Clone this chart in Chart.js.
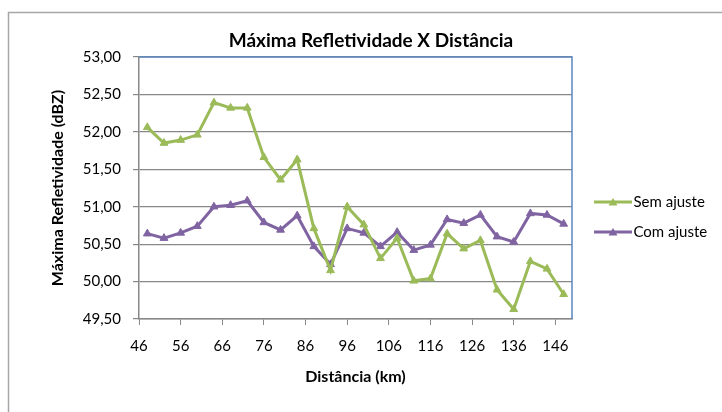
<!DOCTYPE html>
<html>
<head>
<meta charset="utf-8">
<script src="https://cdn.jsdelivr.net/npm/chart.js@4/dist/chart.umd.min.js"></script>
<style>
  html, body { margin: 0; padding: 0; background: #fff; }
  canvas { display: block; }
</style>
</head>
<body>
<canvas id="chart1" width="722" height="412"></canvas>
<script>
// Distance (km) and maximum reflectivity (dBZ) for both series
const distances = [48, 52, 56, 60, 64, 68, 72, 76, 80, 84, 88, 92, 96, 100, 104, 108, 112, 116, 120, 124, 128, 132, 136, 140, 144, 148];
const semAjuste = [52.06, 51.85, 51.89, 51.96, 52.39, 52.32, 52.32, 51.66, 51.36, 51.63, 50.71, 50.15, 51.00, 50.76, 50.31, 50.58, 50.01, 50.04, 50.64, 50.44, 50.55, 49.89, 49.63, 50.27, 50.17, 49.83];
const comAjuste = [50.64, 50.58, 50.65, 50.74, 51.00, 51.02, 51.08, 50.79, 50.69, 50.88, 50.47, 50.23, 50.71, 50.65, 50.47, 50.66, 50.42, 50.49, 50.83, 50.78, 50.89, 50.60, 50.53, 50.91, 50.89, 50.77];
const xTicks = [46, 56, 66, 76, 86, 96, 106, 116, 126, 136, 146];
const seriesNames = ["Sem ajuste", "Com ajuste"];

const GREEN = "#9bbb59";
const PURPLE = "#8064a2";
const GRID = "#888888";
const FONT = "Lato, 'Open Sans', sans-serif";

// legend symbol: short line with a triangle marker in the middle
function legendIcon(color) {
  const c = document.createElement("canvas");
  c.width = 51;
  c.height = 10;
  const g = c.getContext("2d");
  g.strokeStyle = color;
  g.lineWidth = 3;
  g.beginPath();
  g.moveTo(13, 5);
  g.lineTo(51, 5);
  g.stroke();
  g.fillStyle = color;
  g.beginPath();
  g.moveTo(32, 1);
  g.lineTo(36.5, 8.5);
  g.lineTo(27.5, 8.5);
  g.closePath();
  g.fill();
  return c;
}
const icons = [legendIcon(GREEN), legendIcon(PURPLE)];

function toPoints(values) {
  return distances.map((d, i) => ({ x: d, y: values[i] }));
}

const frame = {
  id: "frame",
  beforeDraw(chart) {
    const ctx = chart.ctx;
    ctx.save();
    ctx.fillStyle = "#fff";
    ctx.fillRect(0, 0, chart.width, chart.height);
    ctx.strokeStyle = "#a6a6a6";
    ctx.lineWidth = 1.5;
    ctx.strokeRect(8.5, 12.5, chart.width + 20, chart.height + 20);
    ctx.restore();
  },
  beforeLayout(chart) {
    const lg = chart.legend;
    if (lg && !lg._fixedWidth) {
      const fit = lg.fit;
      lg.fit = function () {
        fit.call(this);
        this.width = 150;
      };
      lg._fixedWidth = true;
    }
  },
  beforeDatasetsDraw(chart) {
    const { ctx, chartArea: a } = chart;
    ctx.save();
    ctx.strokeStyle = "#5b87c0";
    ctx.lineWidth = 1.5;
    ctx.beginPath();
    ctx.moveTo(a.left, a.top);
    ctx.lineTo(a.right, a.top);
    ctx.lineTo(a.right, a.bottom);
    ctx.stroke();
    ctx.restore();
  }
};

const ctx = document.getElementById("chart1").getContext("2d");
new Chart(ctx, {
  type: "line",
  data: {
    datasets: [
      {
        label: seriesNames[0],
        data: toPoints(semAjuste),
        borderColor: GREEN,
        backgroundColor: GREEN,
        borderWidth: 3,
        pointStyle: "triangle",
        pointRadius: 4.5,
        pointBorderWidth: 1,
        tension: 0
      },
      {
        label: seriesNames[1],
        data: toPoints(comAjuste),
        borderColor: PURPLE,
        backgroundColor: PURPLE,
        borderWidth: 3,
        pointStyle: "triangle",
        pointRadius: 4.5,
        pointBorderWidth: 1,
        tension: 0
      }
    ]
  },
  options: {
    responsive: false,
    animation: false,
    layout: { padding: { left: 20, right: 0, top: 0, bottom: 0 } },
    plugins: {
      title: {
        display: true,
        text: "Máxima Refletividade X Distância",
        color: "#000",
        font: { family: FONT, size: 19, weight: "bold" },
        padding: { top: 29.6, bottom: 4.6 }
      },
      legend: {
        position: "right",
        title: { display: true, text: "", font: { size: 10 }, padding: 5 },
        labels: {
          color: "#000",
          font: { family: FONT, size: 15 },
          usePointStyle: true,
          pointStyleWidth: 39,
          padding: 15,
          generateLabels(chart) {
            const items = Chart.defaults.plugins.legend.labels.generateLabels(chart);
            return items.map(it => Object.assign(it, { pointStyle: icons[it.datasetIndex] }));
          }
        }
      },
      tooltip: { enabled: false }
    },
    scales: {
      x: {
        type: "linear",
        min: 46,
        max: 150,
        afterBuildTicks(scale) {
          scale.ticks = xTicks.map(v => ({ value: v }));
        },
        afterFit(scale) {
          scale.height = 93;
        },
        grid: {
          drawOnChartArea: false,
          drawTicks: true,
          tickLength: 6,
          color: GRID
        },
        border: { color: GRID, width: 1.5 },
        ticks: {
          color: "#000",
          font: { family: FONT, size: 15 },
          padding: 12,
          maxRotation: 0
        },
        title: {
          display: true,
          text: "Distância (km)",
          color: "#000",
          font: { family: FONT, size: 16, weight: "bold" },
          padding: { top: 0, bottom: 25.4 }
        }
      },
      y: {
        min: 49.5,
        max: 53,
        afterFit(scale) {
          scale.width = 119;
        },
        grid: {
          color: GRID,
          tickLength: 6,
          lineWidth: 1.2
        },
        border: { color: GRID, width: 1.5 },
        ticks: {
          stepSize: 0.5,
          color: "#000",
          font: { family: FONT, size: 15 },
          padding: 12,
          callback: v => v.toFixed(2).replace(".", ",")
        },
        title: {
          display: true,
          text: "Máxima Refletividade (dBZ)",
          color: "#000",
          font: { family: FONT, size: 16, weight: "bold" },
          padding: { top: 28.4, bottom: 0 }
        }
      }
    }
  },
  plugins: [frame]
});
</script>
</body>
</html>
